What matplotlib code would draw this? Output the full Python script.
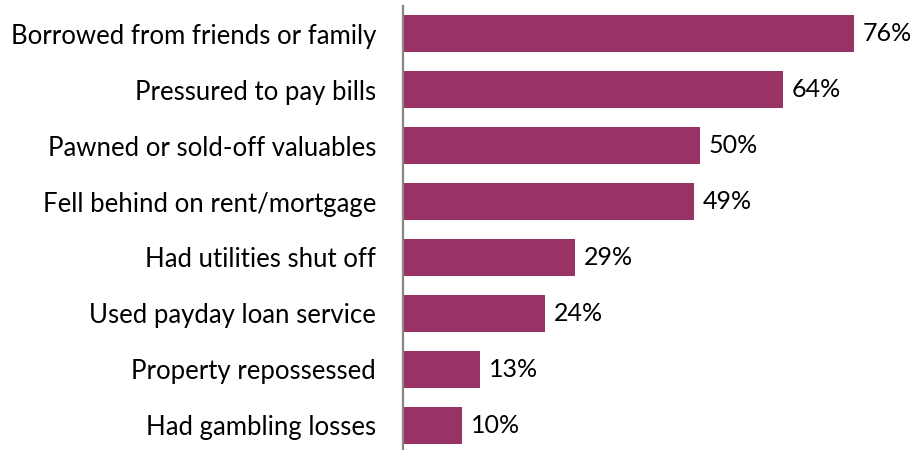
import matplotlib
matplotlib.use("Agg")
import matplotlib.pyplot as plt

categories = [
    "Borrowed from friends or family",
    "Pressured to pay bills",
    "Pawned or sold-off valuables",
    "Fell behind on rent/mortgage",
    "Had utilities shut off",
    "Used payday loan service",
    "Property repossessed",
    "Had gambling losses",
]
values = [76, 64, 50, 49, 29, 24, 13, 10]
value_labels = ["76%", "64%", "50%", "49%", "29%", "24%", "13%", "10%"]

plt.rcParams["font.family"] = ["Lato", "DejaVu Sans"]

W, H = 919, 450
fig = plt.figure(figsize=(W / 100, H / 100), dpi=100)
ax = fig.add_axes([403 / W, (H - 453) / H, (W - 403) / W, 447 / H])

y = list(range(len(categories)))
ax.barh(y, values, height=0.66, color="#993366", edgecolor="none")
ax.set_xlim(0, (W - 403) / 5.93)
ax.set_ylim(len(categories) - 0.5, -0.5)

for yi, v, lab in zip(y, values, value_labels):
    ax.annotate(lab, (v, yi), xytext=(6.5, 0), textcoords="offset points",
                ha="left", va="center", fontsize=18, color="#000000")

ax.set_yticks(y)
ax.set_yticklabels(categories, fontsize=18.5, color="#000000")
ax.tick_params(axis="y", length=0, pad=19.5)
ax.set_xticks([])
for s in ["top", "right", "bottom"]:
    ax.spines[s].set_visible(False)
ax.spines["left"].set_color("#868686")
ax.spines["left"].set_linewidth(1.6)

fig.savefig("out.png", dpi=100)
